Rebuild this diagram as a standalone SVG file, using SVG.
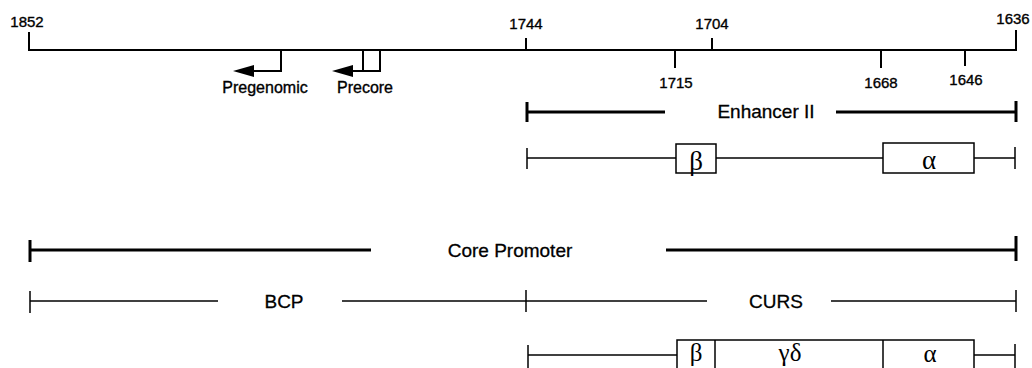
<svg xmlns="http://www.w3.org/2000/svg" width="1032" height="368" viewBox="0 0 1032 368">
<defs>
<style>
.lbl{font-family:"Liberation Sans",Arial,sans-serif;font-size:15px;fill:#000;stroke:#000;stroke-width:0.35;text-anchor:middle;}
.sm{font-family:"Liberation Sans",Arial,sans-serif;font-size:16px;fill:#000;stroke:#000;stroke-width:0.35;text-anchor:middle;}
.big{font-family:"Liberation Sans",Arial,sans-serif;font-size:19px;fill:#000;stroke:#000;stroke-width:0.3;text-anchor:middle;}
.gk{font-family:"Liberation Serif","Times New Roman",serif;font-size:27px;fill:#000;text-anchor:middle;}
.gk2{font-family:"Liberation Serif","Times New Roman",serif;font-size:25px;fill:#000;text-anchor:middle;}
.ax{stroke:#000;stroke-width:2;fill:none;}
.thick{stroke:#000;stroke-width:3;fill:none;}
.thin{stroke:#000;stroke-width:1.5;fill:none;}
.box{stroke:#000;stroke-width:1.5;fill:#fff;}
.head{fill:#000;}
</style>
</defs>
<g id="axis">
<line class="ax" x1="28" y1="50" x2="1017" y2="50"/>
<line class="ax" x1="29" y1="32" x2="29" y2="51"/>
<line class="ax" x1="526" y1="38" x2="526" y2="50"/>
<line class="ax" x1="712" y1="38" x2="712" y2="50"/>
<line class="ax" x1="1016" y1="30" x2="1016" y2="51"/>
<line class="ax" x1="675" y1="50" x2="675" y2="68"/>
<line class="ax" x1="881" y1="50" x2="881" y2="68"/>
<line class="ax" x1="965" y1="50" x2="965" y2="66"/>
<text class="lbl" x="27" y="27">1852</text>
<text class="lbl" x="526" y="29">1744</text>
<text class="lbl" x="712" y="29">1704</text>
<text class="lbl" x="1013" y="24">1636</text>
<text class="lbl" x="676" y="88">1715</text>
<text class="lbl" x="881" y="88">1668</text>
<text class="lbl" x="966" y="85">1646</text>
</g>
<g id="pregenomic">
<polyline class="ax" points="281,50 281,71 253,71"/>
<path class="head" d="M233,71 L254,65 L254,77 Z"/>
<text class="sm" x="265" y="93">Pregenomic</text>
</g>
<g id="precore">
<polyline class="ax" points="363,50 363,71 380,71 380,50"/>
<line class="ax" x1="363" y1="71" x2="352" y2="71"/>
<path class="head" d="M332,71 L353,65 L353,77 Z"/>
<text class="sm" x="365" y="93">Precore</text>
</g>
<g id="enhancer2">
<line class="thick" x1="527" y1="112" x2="665" y2="112"/>
<line class="thick" x1="836" y1="112" x2="1016" y2="112"/>
<line class="thick" x1="527" y1="102" x2="527" y2="122"/>
<line class="thick" x1="1016" y1="101" x2="1016" y2="122"/>
<text class="big" x="766" y="118">Enhancer II</text>
</g>
<g id="enhancer-elements">
<line class="thin" x1="527" y1="158" x2="1015" y2="158"/>
<line class="thin" x1="527" y1="148" x2="527" y2="169"/>
<line class="thin" x1="1015" y1="147" x2="1015" y2="169"/>
<rect class="box" x="676" y="144" width="40" height="29"/>
<rect class="box" x="883" y="143" width="91" height="30"/>
<text class="gk" x="696" y="170">β</text>
<text class="gk" x="929" y="169">α</text>
</g>
<g id="core-promoter">
<line class="thick" x1="30" y1="250" x2="371" y2="250"/>
<line class="thick" x1="666" y1="250" x2="1016" y2="250"/>
<line class="thick" x1="30" y1="240" x2="30" y2="262"/>
<line class="thick" x1="1016" y1="236" x2="1016" y2="261"/>
<text class="big" x="510" y="257">Core Promoter</text>
</g>
<g id="bcp">
<line class="thin" x1="30" y1="301" x2="218" y2="301"/>
<line class="thin" x1="342" y1="301" x2="526" y2="301"/>
<line class="thin" x1="30" y1="291" x2="30" y2="313"/>
<text class="big" x="284" y="308">BCP</text>
</g>
<g id="curs">
<line class="thin" x1="526" y1="301" x2="707" y2="301"/>
<line class="thin" x1="831" y1="301" x2="1016" y2="301"/>
<line class="thin" x1="526" y1="290" x2="526" y2="312"/>
<line class="thin" x1="1016" y1="290" x2="1016" y2="312"/>
<text class="big" x="776" y="308">CURS</text>
</g>
<g id="curs-elements">
<line class="thin" x1="528" y1="355" x2="677" y2="355"/>
<line class="thin" x1="974" y1="355" x2="1015" y2="355"/>
<line class="thin" x1="528" y1="345" x2="528" y2="368"/>
<line class="thin" x1="1015" y1="344" x2="1015" y2="368"/>
<rect class="box" x="677" y="340" width="297" height="34"/>
<line class="thin" x1="715" y1="340" x2="715" y2="368"/>
<line class="thin" x1="883" y1="340" x2="883" y2="368"/>
<text class="gk2" x="696" y="361">β</text>
<text class="gk2" x="790" y="361">γδ</text>
<text class="gk2" x="930" y="362">α</text>
</g>
</svg>
